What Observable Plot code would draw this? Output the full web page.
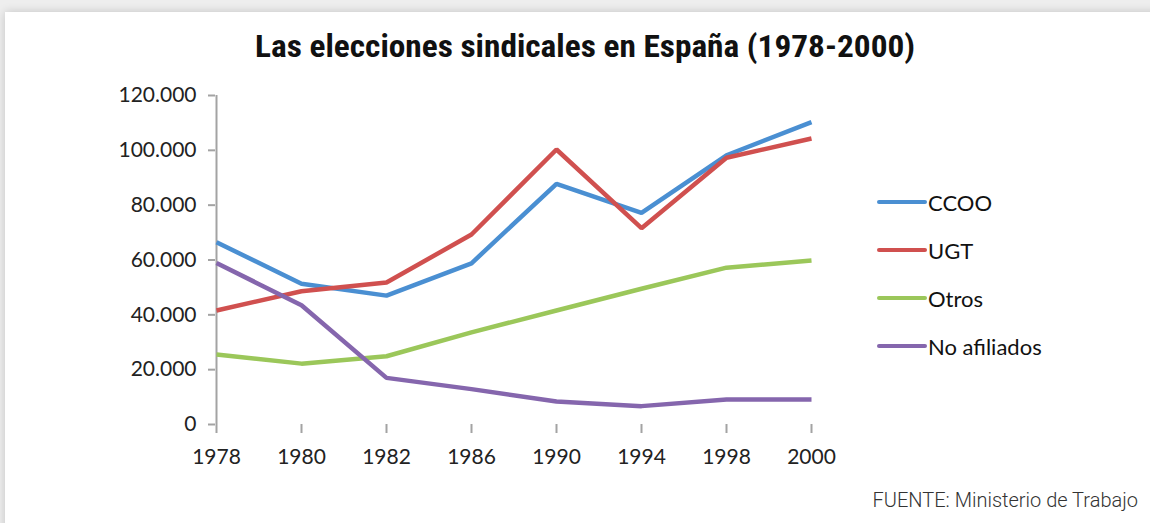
<!DOCTYPE html>
<html>
<head>
<meta charset="utf-8">
<script src="https://cdn.jsdelivr.net/npm/d3@7"></script>
<script src="https://cdn.jsdelivr.net/npm/@observablehq/plot@0.6"></script>
<style>
  html, body { margin: 0; padding: 0; }
  body { width: 1150px; height: 523px; background: #eeeeee; position: relative; overflow: hidden; }
  #card { position: absolute; left: 5px; top: 12px; width: 1160px; height: 530px; background: #fff;
          box-shadow: 0 0 9px rgba(0,0,0,0.18); }
  #title { position: absolute; left: 0; top: 27px; width: 1170px; text-align: center;
           font-family: "Liberation Sans Narrow", "Roboto Condensed", Roboto, sans-serif; font-weight: bold;
           font-size: 32px; color: #111; white-space: nowrap; }
  #title span { display: inline-block; transform-origin: center; }
  #chart { position: absolute; left: 0; top: 70px; }
  #legend { position: absolute; left: 877px; top: 178px; font-family: Lato, "Open Sans", sans-serif; font-size: 22px; color: #111; }
  .item { position: relative; height: 48px; display: flex; align-items: center; }
  .item .sw { width: 50px; height: 4px; border-radius: 2px; }
  .item .lb { margin-left: 1px; }
  #source { position: absolute; right: 12px; top: 488px; font-family: Roboto, sans-serif; font-weight: 300;
            font-size: 20px; color: #333; }
</style>
</head>
<body>
<div id="card"></div>
<div id="title"><span>Las elecciones sindicales en España (1978-2000)</span></div>
<div id="chart"></div>
<div id="legend"></div>
<div id="source">FUENTE: Ministerio de Trabajo</div>
<script>
const years = ["1978", "1980", "1982", "1986", "1990", "1994", "1998", "2000"];
const seriesNames = ["CCOO", "UGT", "Otros", "No afiliados"];
const ccoo = [66500, 51300, 47000, 58800, 87800, 77200, 98200, 110300];
const ugt = [41600, 48600, 51800, 69300, 100300, 71600, 97300, 104300];
const otros = [25500, 22200, 24900, 33600, 41600, 49500, 57200, 59800];
const noAfiliados = [58900, 43500, 17000, 12900, 8400, 6700, 9100, 9100];
const colors = ["#4a8fd2", "#d0504f", "#9bc75a", "#8566ad"];
const yTicks = [0, 20000, 40000, 60000, 80000, 100000, 120000];

const values = [ccoo, ugt, otros, noAfiliados];
const data = [];
seriesNames.forEach((s, i) => years.forEach((y, j) => data.push({serie: s, year: y, value: values[i][j]})));

const fmt = d3.formatLocale({decimal: ",", thousands: ".", grouping: [3]}).format(",");

const chart = Plot.plot({
  width: 1150,
  height: 400,
  marginLeft: 215,
  marginRight: 339,
  marginTop: 25,
  marginBottom: 46,
  style: {fontFamily: "Lato, 'Open Sans', sans-serif", fontSize: "21px", color: "#222", background: "transparent"},
  x: {type: "point", domain: years, padding: 0},
  y: {domain: [0, 120000], ticks: yTicks},
  color: {domain: seriesNames, range: colors},
  marks: [
    Plot.ruleY(yTicks, {stroke: "#a3a3a3", strokeWidth: 2, x1: years[0], x2: years[years.length - 1]}),
    Plot.ruleX([years[0]], {stroke: "#a3a3a3", strokeWidth: 2}),
    Plot.axisY({ticks: yTicks, tickFormat: d => fmt(d), tickSize: 7, tickPadding: 12, stroke: "#a3a3a3", strokeWidth: 2, label: null, fill: "#222"}),
    Plot.axisX({tickSize: 9, tickPadding: 16, stroke: "#a3a3a3", strokeWidth: 2, label: null, fill: "#222"}),
    Plot.line(data, {x: "year", y: "value", z: "serie", stroke: "serie", strokeWidth: 4.5, strokeLinejoin: "miter", strokeLinecap: "butt"})
  ]
});
document.getElementById("chart").appendChild(chart);

const legend = document.getElementById("legend");
seriesNames.forEach((s, i) => {
  const item = document.createElement("div");
  item.className = "item";
  item.innerHTML = `<div class="sw" style="background:${colors[i]}"></div><div class="lb">${s}</div>`;
  legend.appendChild(item);
});

const t = document.querySelector("#title span");
const w = t.getBoundingClientRect().width;
t.style.transform = `scaleX(${660 / w})`;
</script>
</body>
</html>
